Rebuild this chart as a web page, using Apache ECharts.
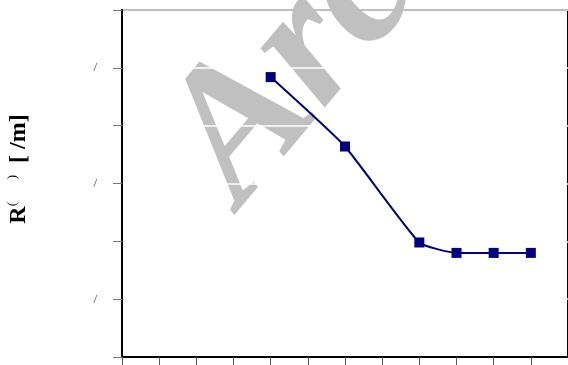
<!DOCTYPE html>
<html>
<head>
<meta charset="utf-8">
<script src="https://cdn.jsdelivr.net/npm/echarts@6/dist/echarts.min.js"></script>
<style>
  html, body { margin: 0; padding: 0; background: #fff; }
  #chart { width: 568px; height: 365px; }
</style>
</head>
<body>
<div id="chart"></div>
<script>
// Measured points along the curve
const xValues = [4, 6, 8, 9, 10, 11];
const rValues = [4.84, 3.64, 1.98, 1.80, 1.80, 1.80];

// Y tick labels, one per tick from 0 to 6
const yTickLabels = ['', '/', '', '/', '', '/', ''];

const seriesData = xValues.map((x, i) => [x, rValues[i]]);

const chart = echarts.init(document.getElementById('chart'), null, { renderer: 'canvas' });

chart.setOption({
  animation: false,
  backgroundColor: '#fff',
  grid: {
    left: 122, right: -3, top: 10, bottom: 8,
    show: true, borderColor: '#000', borderWidth: 2,
    backgroundColor: 'transparent'
  },
  xAxis: {
    type: 'value', min: 0, max: 12, interval: 1,
    axisLine: { show: true, lineStyle: { color: '#000', width: 2 } },
    axisTick: { show: true, length: 8, lineStyle: { color: '#555', width: 1 } },
    axisLabel: { show: false },
    splitLine: { show: false }
  },
  yAxis: {
    type: 'value', min: 0, max: 6, interval: 1,
    axisLine: { show: true, lineStyle: { color: '#000', width: 2 } },
    axisTick: { show: true, length: 9, lineStyle: { color: '#777', width: 1 } },
    axisLabel: {
      margin: 25, color: '#444', fontSize: 13, fontFamily: 'Liberation Serif',
      formatter: (v) => yTickLabels[Math.round(v)] || ''
    },
    splitLine: { show: true, lineStyle: { color: '#fff', width: 1.5 } }
  },
  graphic: [
    {
      type: 'text', z: -100,
      x: 276, y: 237,
      rotation: 50 * Math.PI / 180,
      style: {
        text: 'Arc',
        fill: '#c0c0c0',
        font: 'italic bold 190px "Liberation Serif"',
        align: 'left', verticalAlign: 'bottom'
      }
    },
    {
      type: 'text',
      x: 19, y: 169,
      rotation: Math.PI / 2,
      style: {
        text: '{r|R}{s|(       )}{t|  [ /m]}',
        align: 'center', verticalAlign: 'middle',
        rich: {
          r: { font: 'bold 24px "Liberation Serif"', fill: '#000', lineHeight: 26 },
          s: { font: '13px "Liberation Serif"', fill: '#000', lineHeight: 13, verticalAlign: 'top' },
          t: { font: 'bold 24px "Liberation Serif"', fill: '#000', lineHeight: 26 }
        }
      }
    }
  ],
  series: [
    {
      type: 'line',
      data: seriesData,
      smooth: 0.15,
      symbol: 'rect',
      symbolSize: 10,
      itemStyle: { color: '#000080' },
      lineStyle: { color: '#000080', width: 2 },
      z: 5
    }
  ]
});
</script>
</body>
</html>
